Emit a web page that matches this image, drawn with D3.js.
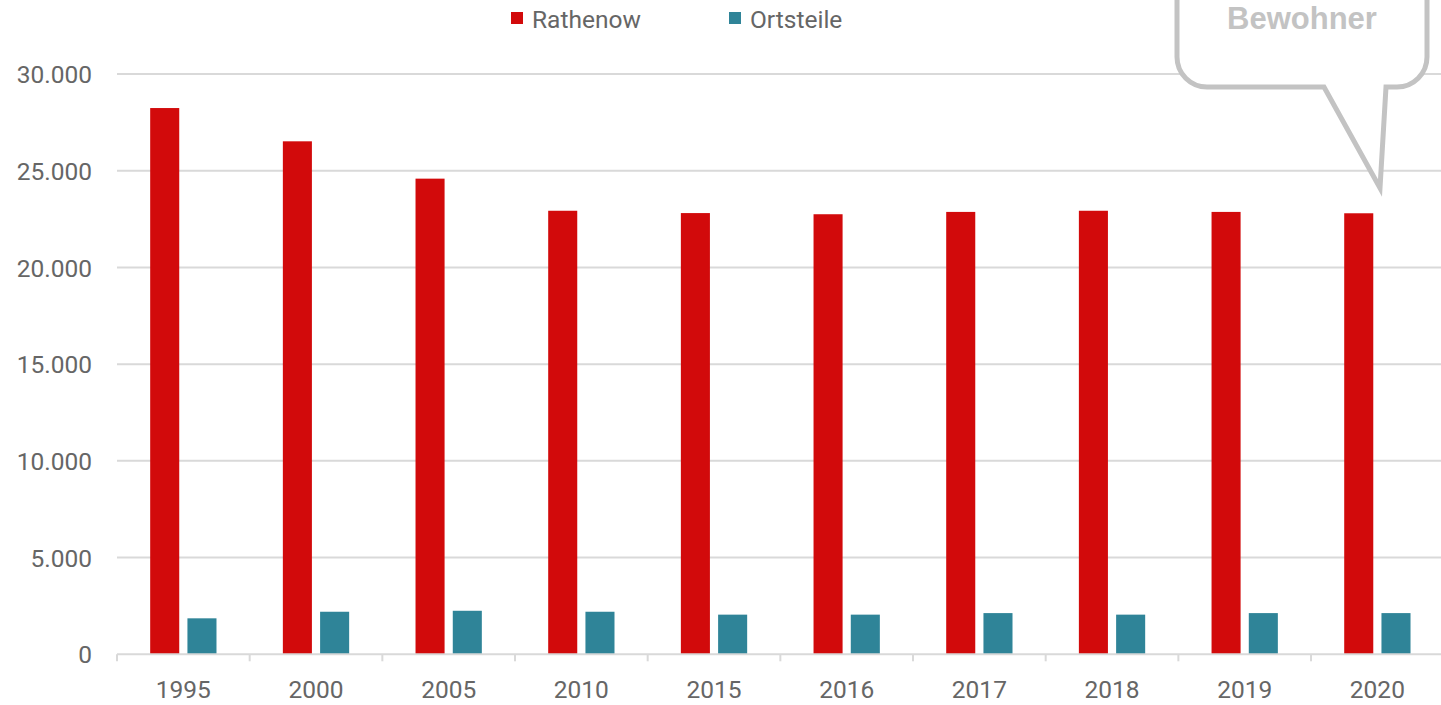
<!DOCTYPE html>
<html lang="de">
<head>
<meta charset="utf-8">
<title>Einwohner Rathenow und Ortsteile</title>
<script src="https://cdn.jsdelivr.net/npm/d3@7"></script>
<style>
  html, body { margin: 0; padding: 0; background: #ffffff; }
  svg { display: block; }
  text { font-family: Roboto, "Noto Sans", sans-serif; }
</style>
</head>
<body>
<svg id="chart" width="1441" height="705"></svg>
<script>
// Einwohnerzahlen je Jahr
const years = ["1995", "2000", "2005", "2010", "2015", "2016", "2017", "2018", "2019", "2020"];
const rathenow = [28240, 26520, 24590, 22930, 22810, 22750, 22870, 22930, 22870, 22800];
const ortsteile = [1860, 2200, 2250, 2200, 2050, 2050, 2130, 2050, 2130, 2130];
const seriesNames = ["Rathenow", "Ortsteile"];
const seriesColors = ["#d20a0b", "#2f8498"];
const yTicks = [0, 5000, 10000, 15000, 20000, 25000, 30000];
const bubbleLabel = "Bewohner";

const svg = d3.select("#chart");
const W = 1441, H = 705;
const margin = { left: 117, top: 74, bottom: 50 };
const bandStep = 132.67;

const x0 = d3.scaleBand()
  .domain(years)
  .range([margin.left, margin.left + bandStep * years.length])
  .paddingInner(0).paddingOuter(0);

const groupWidth = 66.3;
const x1 = d3.scaleBand()
  .domain(seriesNames)
  .range([0, groupWidth])
  .paddingInner(0.22).paddingOuter(0);

const y = d3.scaleLinear()
  .domain([0, 30000])
  .range([654.3, 74]);

const fmt = v => v === 0 ? "0" : d3.format(",")(v).replace(/,/g, ".");

// Gitternetzlinien
svg.append("g")
  .selectAll("line")
  .data(yTicks.filter(d => d > 0))
  .join("line")
  .attr("x1", margin.left)
  .attr("x2", W)
  .attr("y1", d => y(d))
  .attr("y2", d => y(d))
  .attr("stroke", "#d9d9d9")
  .attr("stroke-width", 2);

// y-Achse (nur Beschriftung)
const yAxis = d3.axisLeft(y).tickValues(yTicks).tickFormat(fmt).tickSize(0).tickPadding(0);
const gy = svg.append("g").attr("transform", "translate(92,0)").call(yAxis);
gy.select(".domain").remove();
gy.selectAll("text")
  .attr("fill", "#666666")
  .attr("font-size", 24.5)
  .attr("dy", "0.35em")
  .style("font-family", "Roboto, sans-serif");

// Balken
const data = years.map((yr, i) => ({ year: yr, values: [rathenow[i], ortsteile[i]] }));
const groups = svg.append("g")
  .selectAll("g")
  .data(data)
  .join("g")
  .attr("transform", d => `translate(${x0(d.year) + (x0.bandwidth() - groupWidth) / 2},0)`);

groups.selectAll("rect")
  .data(d => d.values.map((v, k) => ({ key: seriesNames[k], value: v, color: seriesColors[k] })))
  .join("rect")
  .attr("x", d => x1(d.key))
  .attr("width", x1.bandwidth())
  .attr("y", d => y(d.value))
  .attr("height", d => y(0) - y(d.value))
  .attr("fill", d => d.color);

// x-Achse
const xAxis = d3.axisBottom(x0).tickSize(0).tickPadding(0);
const gx = svg.append("g").attr("transform", `translate(0,${y(0)})`).call(xAxis);
gx.select(".domain").remove();
gx.append("line")
  .attr("x1", margin.left).attr("x2", W)
  .attr("y1", 0).attr("y2", 0)
  .attr("stroke", "#d9d9d9").attr("stroke-width", 2);
gx.selectAll(".sep")
  .data(years.concat(["_end"]))
  .join("line")
  .attr("class", "sep")
  .attr("x1", (d, i) => margin.left + i * bandStep)
  .attr("x2", (d, i) => margin.left + i * bandStep)
  .attr("y1", 0).attr("y2", 7)
  .attr("stroke", "#d9d9d9").attr("stroke-width", 2);
gx.selectAll(".tick text")
  .attr("fill", "#666666")
  .attr("font-size", 24.5)
  .attr("y", 44)
  .attr("dy", 0)
  .style("font-family", "Roboto, sans-serif");

// Legende
const legendPos = [511, 729];
const legend = svg.append("g")
  .selectAll("g")
  .data(seriesNames)
  .join("g")
  .attr("transform", (d, i) => `translate(${legendPos[i]},0)`);
legend.append("rect")
  .attr("x", 0).attr("y", 12).attr("width", 12).attr("height", 12)
  .attr("fill", (d, i) => seriesColors[i]);
legend.append("text")
  .attr("x", 21).attr("y", 27.5)
  .attr("fill", "#666666")
  .attr("font-size", 24.5)
  .text(d => d);

// Sprechblase
const bx0 = 1177, bx1 = 1427, by0 = -40, by1 = 87, r = 30;
const tailL = 1324, tailR = 1386, tipX = 1380, tipY = 188;
const bubble = d3.path();
bubble.moveTo(bx0 + r, by0);
bubble.lineTo(bx1 - r, by0);
bubble.arcTo(bx1, by0, bx1, by0 + r, r);
bubble.lineTo(bx1, by1 - r);
bubble.arcTo(bx1, by1, bx1 - r, by1, r);
bubble.lineTo(tailR, by1);
bubble.lineTo(tipX, tipY);
bubble.lineTo(tailL, by1);
bubble.lineTo(bx0 + r, by1);
bubble.arcTo(bx0, by1, bx0, by1 - r, r);
bubble.lineTo(bx0, by0 + r);
bubble.arcTo(bx0, by0, bx0 + r, by0, r);
bubble.closePath();
svg.append("path")
  .attr("d", bubble.toString())
  .attr("fill", "#ffffff")
  .attr("stroke", "#c3c3c3")
  .attr("stroke-width", 5)
  .attr("stroke-linejoin", "miter");
svg.append("text")
  .attr("x", 1302).attr("y", 28.5)
  .attr("text-anchor", "middle")
  .attr("fill", "#c3c3c3")
  .attr("font-size", 31)
  .attr("font-weight", "bold")
  .style("font-family", "'Liberation Sans', Arial, sans-serif")
  .text(bubbleLabel);
</script>
</body>
</html>
